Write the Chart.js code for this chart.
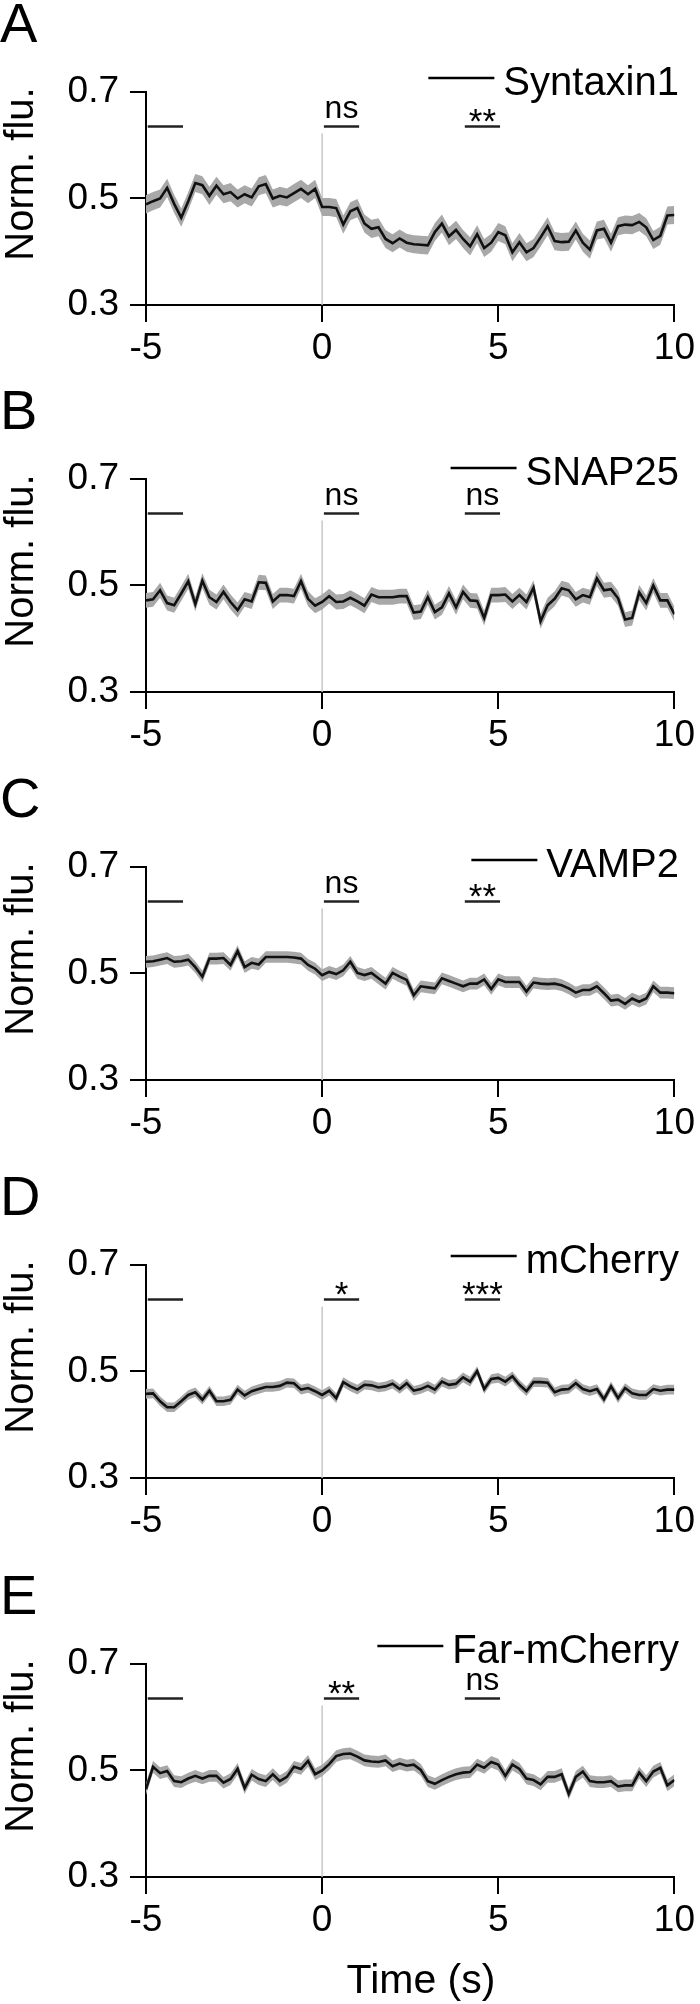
<!DOCTYPE html>
<html>
<head>
<meta charset="utf-8">
<script src="https://cdn.jsdelivr.net/npm/chart.js@4.4.1/dist/chart.umd.min.js"></script>
<style>
  body { margin: 0; background: #fff; }
  #wrap { position: relative; width: 700px; height: 2004px; overflow: hidden; }
  canvas { position: absolute; left: 0; }
</style>
</head>
<body>
<div id="wrap"></div>
<script>
// time axis (s)
const times = [-5, -4.8, -4.6, -4.4, -4.2, -4, -3.8, -3.6, -3.4, -3.2, -3, -2.8, -2.6, -2.4, -2.2,
  -2, -1.8, -1.6, -1.4, -1.2, -1, -0.8, -0.6, -0.4, -0.2, 0, 0.2, 0.4, 0.6, 0.8, 1, 1.2, 1.4, 1.6,
  1.8, 2, 2.2, 2.4, 2.6, 2.8, 3, 3.2, 3.4, 3.6, 3.8, 4, 4.2, 4.4, 4.6, 4.8, 5, 5.2, 5.4, 5.6, 5.8,
  6, 6.2, 6.4, 6.6, 6.8, 7, 7.2, 7.4, 7.6, 7.8, 8, 8.2, 8.4, 8.6, 8.8, 9, 9.2, 9.4, 9.6, 9.8, 10]

// mean normalized fluorescence
const syntaxin1 = [0.489, 0.495, 0.500, 0.520, 0.490, 0.464, 0.495, 0.529, 0.525, 0.505, 0.524, 0.508,
  0.512, 0.500, 0.508, 0.502, 0.523, 0.527, 0.500, 0.505, 0.502, 0.510, 0.518, 0.508, 0.518,
  0.484, 0.484, 0.482, 0.451, 0.476, 0.482, 0.453, 0.443, 0.446, 0.424, 0.416, 0.425, 0.417,
  0.414, 0.413, 0.412, 0.437, 0.453, 0.429, 0.441, 0.424, 0.410, 0.433, 0.407, 0.417, 0.437,
  0.431, 0.399, 0.418, 0.399, 0.407, 0.427, 0.448, 0.420, 0.418, 0.419, 0.440, 0.417, 0.404,
  0.440, 0.443, 0.417, 0.448, 0.451, 0.450, 0.456, 0.446, 0.422, 0.430, 0.468, 0.469]
const snap25 = [0.472, 0.474, 0.491, 0.467, 0.463, 0.485, 0.508, 0.465, 0.509, 0.478, 0.469, 0.488,
  0.469, 0.454, 0.474, 0.470, 0.506, 0.505, 0.470, 0.482, 0.482, 0.480, 0.508, 0.475, 0.462,
  0.469, 0.480, 0.469, 0.470, 0.477, 0.470, 0.462, 0.483, 0.478, 0.478, 0.478, 0.480, 0.480,
  0.449, 0.451, 0.478, 0.450, 0.459, 0.485, 0.459, 0.488, 0.472, 0.471, 0.439, 0.482, 0.482,
  0.483, 0.470, 0.482, 0.469, 0.496, 0.433, 0.463, 0.475, 0.495, 0.491, 0.474, 0.482, 0.478,
  0.513, 0.491, 0.493, 0.476, 0.436, 0.439, 0.487, 0.467, 0.500, 0.472, 0.472, 0.446]
const vamp2 = [0.522, 0.523, 0.526, 0.529, 0.522, 0.523, 0.526, 0.512, 0.494, 0.528, 0.528, 0.529,
  0.516, 0.542, 0.512, 0.520, 0.517, 0.531, 0.531, 0.531, 0.531, 0.530, 0.528, 0.516, 0.509,
  0.497, 0.503, 0.499, 0.506, 0.522, 0.501, 0.497, 0.501, 0.491, 0.481, 0.501, 0.494, 0.488,
  0.459, 0.476, 0.474, 0.472, 0.491, 0.486, 0.481, 0.476, 0.481, 0.481, 0.489, 0.471, 0.489,
  0.484, 0.484, 0.484, 0.466, 0.483, 0.481, 0.480, 0.481, 0.478, 0.472, 0.464, 0.469, 0.469,
  0.476, 0.463, 0.449, 0.451, 0.443, 0.453, 0.447, 0.453, 0.476, 0.464, 0.464, 0.463]
const mcherry = [0.458, 0.459, 0.444, 0.433, 0.433, 0.444, 0.456, 0.461, 0.447, 0.464, 0.444, 0.444,
  0.447, 0.466, 0.455, 0.463, 0.467, 0.471, 0.471, 0.473, 0.479, 0.478, 0.466, 0.469, 0.463,
  0.456, 0.464, 0.450, 0.480, 0.472, 0.466, 0.475, 0.474, 0.470, 0.472, 0.477, 0.467, 0.478,
  0.464, 0.467, 0.473, 0.466, 0.481, 0.475, 0.477, 0.489, 0.481, 0.501, 0.467, 0.486, 0.488,
  0.481, 0.491, 0.475, 0.463, 0.480, 0.480, 0.479, 0.461, 0.466, 0.467, 0.478, 0.467, 0.463,
  0.467, 0.448, 0.472, 0.450, 0.469, 0.459, 0.456, 0.456, 0.467, 0.464, 0.466, 0.466]
const farMcherry = [0.465, 0.507, 0.495, 0.499, 0.480, 0.478, 0.485, 0.490, 0.485, 0.490, 0.490, 0.477,
  0.484, 0.503, 0.467, 0.492, 0.484, 0.480, 0.493, 0.480, 0.488, 0.507, 0.503, 0.518, 0.493,
  0.500, 0.512, 0.527, 0.531, 0.532, 0.526, 0.519, 0.517, 0.516, 0.519, 0.508, 0.513, 0.509,
  0.511, 0.501, 0.480, 0.475, 0.482, 0.488, 0.493, 0.496, 0.497, 0.511, 0.505, 0.516, 0.511,
  0.490, 0.511, 0.503, 0.485, 0.482, 0.474, 0.488, 0.488, 0.493, 0.456, 0.488, 0.498, 0.480,
  0.478, 0.478, 0.480, 0.470, 0.472, 0.472, 0.496, 0.480, 0.498, 0.505, 0.472, 0.482]

const series = [syntaxin1, snap25, vamp2, mcherry, farMcherry]
const sems = [0.017, 0.014, 0.011, 0.009, 0.011]
const proteins = ['Syntaxin1', 'SNAP25', 'VAMP2', 'mCherry', 'Far-mCherry']
const letters = ['A', 'B', 'C', 'D', 'E']
const sigEarly = ['ns', 'ns', 'ns', '*', '**']
const sigLate = ['**', 'ns', '**', '***', 'ns']

// comparison windows (s) and their level on the y axis
const barStarts = [-4.95, 0.05, 4.05]
const barEnds = [-3.95, 1.05, 5.05]
const barLevel = 0.635
const stimLineTop = 0.622

const xTicks = [-5, 0, 5, 10]
const yTicks = [0.3, 0.5, 0.7]

// page layout
const axisTops = [92, 479, 867, 1265, 1664]
const legendBase = [3, 6, 10, 8, -1]
const FONT = "'Liberation Sans', Arial, Helvetica, sans-serif"
const PAD_TOP = 100

const panelText = {
  id: 'panelText',
  afterDraw(chart, args, opts) {
    const ctx = chart.ctx
    const x = chart.scales.x
    const y = chart.scales.y
    const top = chart.chartArea.top
    ctx.save()
    ctx.fillStyle = '#000'
    ctx.strokeStyle = '#000'

    // panel letter
    ctx.font = '56px ' + FONT
    ctx.textAlign = 'left'
    ctx.textBaseline = 'alphabetic'
    ctx.fillText(opts.letter, 0, top - 50)

    // y title
    ctx.save()
    ctx.translate(33, top + 82)
    ctx.rotate(-Math.PI / 2)
    ctx.font = '40px ' + FONT
    ctx.textAlign = 'center'
    ctx.fillText('Norm. flu.', 0, 0)
    ctx.restore()

    // legend
    ctx.font = '40px ' + FONT
    ctx.textAlign = 'right'
    const base = top + opts.legendBase
    ctx.fillText(opts.name, 679, base)
    const w = ctx.measureText(opts.name).width
    ctx.lineWidth = 2.5
    ctx.beginPath()
    ctx.moveTo(679 - w - 9 - 66, base - 17)
    ctx.lineTo(679 - w - 9, base - 17)
    ctx.stroke()

    // significance marks
    ctx.textAlign = 'center'
    const yBar = y.getPixelForValue(barLevel)
    opts.sig.forEach((s, i) => {
      const k = i + 1
      const cx = x.getPixelForValue((barStarts[k] + barEnds[k]) / 2)
      if (s === 'ns') {
        ctx.font = '32px ' + FONT
        ctx.fillText(s, cx, yBar - 9)
      } else {
        ctx.font = '35px ' + FONT
        ctx.fillText(s, cx, yBar + 6)
      }
    })

    if (opts.xTitle) {
      ctx.font = '41px ' + FONT
      ctx.textAlign = 'center'
      ctx.fillText('Time (s)', 421, chart.chartArea.bottom + 116)
    }
    ctx.restore()
  }
}

const wrap = document.getElementById('wrap')

series.forEach((vals, p) => {
  const last = p === series.length - 1
  const canvas = document.createElement('canvas')
  canvas.width = 700
  canvas.height = last ? 440 : 400
  canvas.style.top = (axisTops[p] - PAD_TOP) + 'px'
  wrap.appendChild(canvas)

  const mean = vals.map((v, i) => ({ x: times[i], y: v }))
  const upper = vals.map((v, i) => ({ x: times[i], y: v + sems[p] }))
  const lower = vals.map((v, i) => ({ x: times[i], y: v - sems[p] }))

  const datasets = [
    { data: mean, borderColor: '#111', borderWidth: 2.6, pointRadius: 0, fill: false, order: 0 },
    { data: upper, borderWidth: 0, borderColor: 'rgba(0,0,0,0)', backgroundColor: '#a8a8a8', pointRadius: 0, fill: '+1', order: 1 },
    { data: lower, borderWidth: 0, borderColor: 'rgba(0,0,0,0)', pointRadius: 0, fill: false, order: 2 },
    { data: [{ x: 0, y: 0.3 }, { x: 0, y: stimLineTop }], borderColor: '#c8c8c8', borderWidth: 1.5, pointRadius: 0, fill: false, order: 3 }
  ]
  barStarts.forEach((s, i) => {
    datasets.push({
      data: [{ x: s, y: barLevel }, { x: barEnds[i], y: barLevel }],
      borderColor: '#222', borderWidth: 2.5, pointRadius: 0, fill: false, order: 0
    })
  })

  new Chart(canvas.getContext('2d'), {
    type: 'line',
    data: { datasets },
    options: {
      responsive: false,
      animation: false,
      devicePixelRatio: 1,
      layout: { padding: { top: PAD_TOP, right: 20, left: 0, bottom: last ? 40 : 0 } },
      plugins: {
        legend: { display: false },
        tooltip: { enabled: false },
        panelText: {
          letter: letters[p], name: proteins[p], legendBase: legendBase[p],
          sig: [sigEarly[p], sigLate[p]], xTitle: last
        }
      },
      scales: {
        x: {
          type: 'linear', min: -5, max: 10,
          afterFit(s) { s.height = 87 },
          afterBuildTicks(s) { s.ticks = xTicks.map(v => ({ value: v })) },
          grid: { drawOnChartArea: false, drawTicks: true, tickLength: 17, color: '#000', lineWidth: 2 },
          border: { color: '#000', width: 2 },
          ticks: { color: '#000', padding: 5, maxRotation: 0, font: { family: FONT, size: 37 } }
        },
        y: {
          min: 0.3, max: 0.7,
          afterFit(s) { s.width = 146 },
          afterBuildTicks(s) { s.ticks = yTicks.map(v => ({ value: v })) },
          grid: { drawOnChartArea: false, drawTicks: true, tickLength: 16, color: '#000', lineWidth: 2 },
          border: { color: '#000', width: 2 },
          ticks: { color: '#000', padding: 11, callback: v => v.toFixed(1), font: { family: FONT, size: 37 } }
        }
      }
    },
    plugins: [panelText]
  })
})
</script>
</body>
</html>
